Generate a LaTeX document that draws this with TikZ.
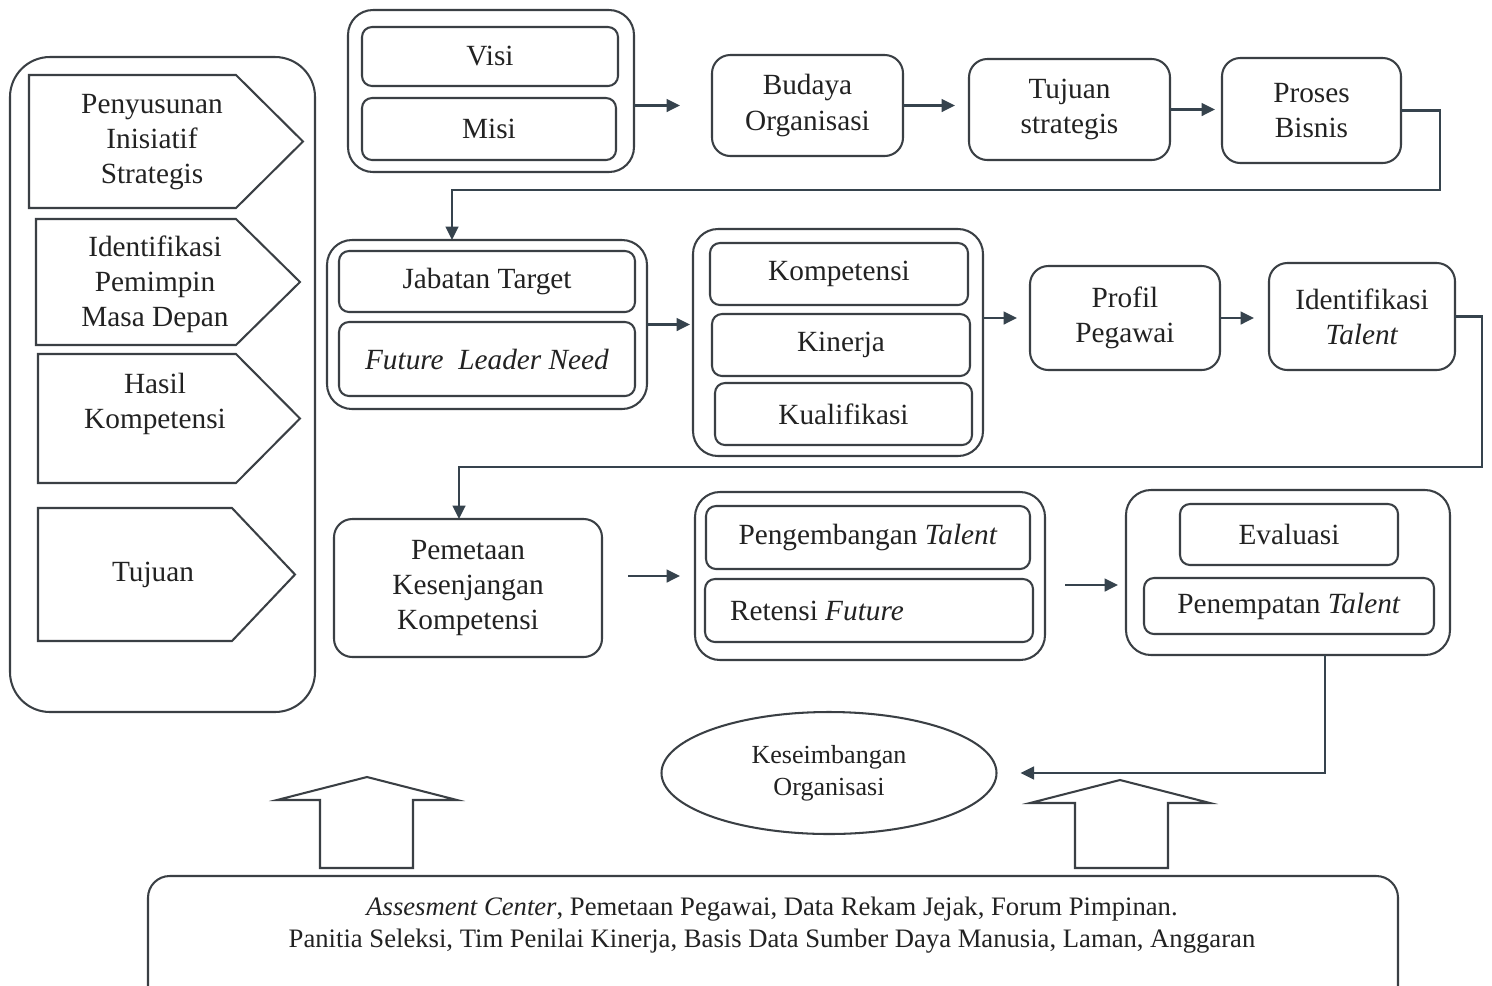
\documentclass[tikz,border=0pt]{standalone}
\usepackage{fontspec}
\setmainfont{Liberation Serif}
\usetikzlibrary{arrows.meta,shapes.geometric}

\definecolor{linec}{HTML}{3A3F44}
\definecolor{arrc}{HTML}{36434D}
\definecolor{txtc}{HTML}{222222}

\begin{document}
\begin{tikzpicture}[x=0.12mm,y=-0.12mm,line width=0.7pt,
  every node/.style={text=txtc},
  rbox/.style args={#1/#2/#3/#4}{minimum width={(#3-#1)*0.12mm},minimum height={(#4-#2)*0.12mm},
    at={({(#1+#3)/2},{(#2+#4)/2})}},
  outer/.style={draw=linec,rounded corners=3mm,inner sep=0pt,outer sep=0pt},
  inner/.style={draw=linec,rounded corners=1.2mm,inner sep=0pt,outer sep=0pt,align=center},
  box/.style={draw=linec,rounded corners=2.2mm,inner sep=0pt,outer sep=0pt,align=center},
  arr/.style={draw=arrc,-{Triangle[length=4.6pt,width=4.4pt]}}]
  \def\px{0.12mm}
  \fill[white] (0,0) rectangle (1492,985);
  \clip (0,0) rectangle (1492,985);

  % ---------------- left panel ----------------
  \node[outer,rounded corners=4.8mm,rbox=10/57/315/712] (panel) {};
  \foreach \xa/\ya/\xb/\yb/\xp in {29/75/303/208/236,36/219/300/345/236,38/354/300/483/236,38/508/295/641/232}
    \draw[draw=linec] (\xa,\ya) -- (\xp,\ya) -- (\xb,{(\ya+\yb)/2}) -- (\xp,\yb) -- (\xa,\yb) -- cycle;
  \node[align=center] (penyusunan) at (152,142) {Penyusunan\\Inisiatif\\Strategis};
  \node[align=center] (identPem) at (155,284) {Identifikasi\\Pemimpin\\Masa Depan};
  \node[align=center] (hasil) at (155,404) {Hasil\\Kompetensi};
  \node (tujuanL) at (153,575) {Tujuan};

  % ---------------- top row ----------------
  \node[outer,rbox=348/10/634/172] (visimisi) {};
  \node[inner,rbox=362/27/618/86] (visi) {Visi};
  \node[inner,rbox=362/98/616/160] (misi) {Misi};
  \node[box,rbox=712/55/903/156] (budaya) {Budaya\\Organisasi};
  \node[box,rbox=969/59/1170/160] (tujuanS) {Tujuan\\strategis};
  \node[box,rbox=1222/58/1401/163] (proses) {Proses\\Bisnis};
  \draw[arr,shorten >=32*\px] (visimisi.east |- budaya.west) -- (budaya.west);
  \draw[arr,shorten >=14*\px] (budaya.east) -- (tujuanS.west |- budaya.east);
  \draw[arr,shorten >=7*\px] (tujuanS.east) -- (proses.west |- tujuanS.east);

  % ---------------- middle row ----------------
  \node[outer,rbox=327/240/647/409] (jabatanC) {};
  \node[inner,rbox=339/251/635/312] (jabatan) {Jabatan Target};
  \node[inner,rbox=339/322/635/396] (future) {\textit{Future\ \ Leader Need}};
  \node[outer,rbox=693/229/983/456] (kompC) {};
  \node[inner,rbox=710/243/968/305] (komp) {Kompetensi};
  \node[inner,rbox=712/314/970/376] (kinerja) {Kinerja};
  \node[inner,rbox=715/383/972/445] (kualif) {Kualifikasi};
  \node[box,rbox=1030/266/1220/370] (profil) {Profil\\Pegawai};
  \node[box,rbox=1269/263/1455/370] (identT) {Identifikasi\\\textit{Talent}};
  \coordinate (bendA) at (452,190);
  \draw[arr] (proses.east) -- ++(39,0) |- (bendA) -- (bendA |- jabatanC.north);
  \draw[arr,shorten >=3*\px] (jabatanC.east) -- (kompC.west |- jabatanC.east);
  \draw[arr,shorten >=13*\px] (kompC.east |- profil.west) -- (profil.west);
  \draw[arr,shorten >=15*\px] (profil.east) -- (identT.west |- profil.east);

  % ---------------- bottom row ----------------
  \node[box,rbox=334/519/602/657] (pemetaan) {Pemetaan\\Kesenjangan\\Kompetensi};
  \node[outer,rbox=695/492/1045/660] (pengC) {};
  \node[inner,rbox=706/506/1030/569] (peng) {Pengembangan \textit{Talent}};
  \node[inner,rbox=705/579/1033/642] (retensi) {};
  \node[anchor=west,inner sep=0pt] (retensiT) at (729,611) {Retensi \textit{Future}};
  \node[outer,rbox=1126/490/1450/655] (evalC) {};
  \node[inner,rbox=1180/504/1398/565] (evaluasi) {Evaluasi};
  \node[inner,rbox=1144/578/1434/634] (penempatan) {Penempatan \textit{Talent}};
  \coordinate (bendB) at (459,467);
  \draw[arr] (identT.east) -- ++(27,0) |- (bendB) -- (bendB |- pemetaan.north);
  \draw[arr,shorten <=26*\px,shorten >=15*\px] (pemetaan.east |- pengC.west) -- (pengC.west);
  \draw[arr,shorten <=20*\px,shorten >=8*\px] (pengC.east) ++(0,9) -- (evalC.west |- 0,585);

  % ---------------- balance and resources ----------------
  \node[ellipse,draw=linec,minimum width=335*\px,minimum height=122*\px,inner sep=0pt,align=center,
    font=\fontsize{8.9}{11}\selectfont] (keseimb) at (829,773) {Keseimbangan\\Organisasi};
  \coordinate (bendC) at (1325,773);
  \draw[arr,shorten >=23*\px] (bendC |- evalC.south) -- (bendC) -- (keseimb.east);
  \foreach \xl/\xr/\xhl/\xhr/\xt/\yh/\yt in {320/413/277/457/367/800/777,1075/1168/1030/1210/1120/803/780}
    \draw[draw=linec] (\xl,868) -- (\xl,\yh) -- (\xhl,\yh) -- (\xt,\yt) -- (\xhr,\yh) -- (\xr,\yh) -- (\xr,868) -- cycle;
  \node[box,rounded corners=2.6mm,rbox=148/876/1398/1010] (sumberBox) {};
  \node[align=center,font=\fontsize{9.1}{10.9}\selectfont] (sumber) at (772,925)
    {\textit{Assesment Center}, Pemetaan Pegawai, Data Rekam Jejak, Forum Pimpinan.\\
     Panitia Seleksi, Tim Penilai Kinerja, Basis Data Sumber Daya Manusia, Laman, Anggaran};
\end{tikzpicture}
\end{document}
